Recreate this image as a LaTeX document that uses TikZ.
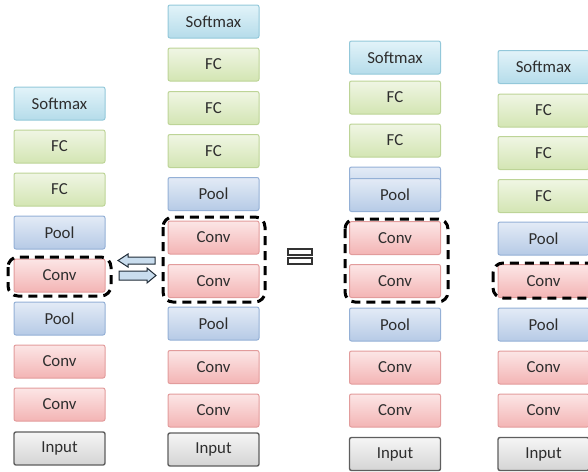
\documentclass[tikz,border=0pt]{standalone}
\usepackage{fontspec}
\setmainfont{Carlito}
\definecolor{smtop}{HTML}{E2F3F9}
\definecolor{smbot}{HTML}{B5DCEA}
\definecolor{smline}{HTML}{93C8DA}
\definecolor{fctop}{HTML}{F0F6E4}
\definecolor{fcbot}{HTML}{D3E5B3}
\definecolor{fcline}{HTML}{BDD497}
\definecolor{pltop}{HTML}{E3EBF6}
\definecolor{plbot}{HTML}{B6CAE6}
\definecolor{plline}{HTML}{94B0D6}
\definecolor{cvtop}{HTML}{FCE6E6}
\definecolor{cvbot}{HTML}{F3B4B4}
\definecolor{cvline}{HTML}{E29C9C}
\definecolor{intop}{HTML}{F5F5F5}
\definecolor{inbot}{HTML}{D4D4D4}
\definecolor{inline}{HTML}{5E5E5E}
\definecolor{arrfill}{HTML}{C9DDEE}
\definecolor{arrline}{HTML}{1E2A36}
\tikzset{
  blk/.style={rounded corners=2pt, minimum width=91pt, minimum height=33pt,
    inner sep=0pt, line width=1pt, font=\fontsize{16.8}{17}\selectfont, text=black!82},
  smb/.style={blk, draw=smline, top color=smtop, bottom color=smbot},
  fcb/.style={blk, draw=fcline, top color=fctop, bottom color=fcbot},
  plb/.style={blk, draw=plline, top color=pltop, bottom color=plbot},
  cvb/.style={blk, draw=cvline, top color=cvtop, bottom color=cvbot},
  inb/.style={blk, draw=inline, line width=1.4pt, top color=intop, bottom color=inbot},
  grp/.style={draw=black, line width=3pt, dash pattern=on 9pt off 6pt, rounded corners=10pt},
  barrow/.style={draw=arrline, fill=arrfill, line width=1pt, line join=miter},
  eqbar/.style={draw=black!80, fill=white, line width=1.6pt}
}
\begin{document}
\begin{tikzpicture}[x=1pt,y=-1pt]
\useasboundingbox (0,0) rectangle (588,471);
% Column 1
\node[smb] (c1a) at (59.5,103.5) {Softmax};
\node[fcb] (c1b) at (59.5,146.5) {FC};
\node[fcb] (c1c) at (59.5,189.5) {FC};
\node[plb] (c1d) at (59.5,232.5) {Pool};
\node[cvb] (c1e) at (59.5,275.5) {Conv};
\node[plb] (c1f) at (59.5,318.5) {Pool};
\node[cvb] (c1g) at (59.5,361.5) {Conv};
\node[cvb] (c1h) at (59.5,404.5) {Conv};
\node[inb] (c1i) at (59.5,448.5) {Input};
% Column 2
\node[smb] (c2a) at (213.5,21.5) {Softmax};
\node[fcb] (c2b) at (213.5,64.5) {FC};
\node[fcb] (c2c) at (213.5,108) {FC};
\node[fcb] (c2d) at (213.5,151) {FC};
\node[plb] (c2e) at (213.5,194) {Pool};
\node[cvb] (c2f) at (213.5,237.5) {Conv};
\node[cvb] (c2g) at (213.5,281) {Conv};
\node[plb] (c2h) at (213.5,323.5) {Pool};
\node[cvb] (c2i) at (213.5,367) {Conv};
\node[cvb] (c2j) at (213.5,410.5) {Conv};
\node[inb] (c2k) at (213.5,449.5) {Input};
% Column 3
\node[smb] (c3a) at (395,57.5) {Softmax};
\node[fcb] (c3b) at (395,97.5) {FC};
\node[fcb] (c3c) at (395,140.5) {FC};
\node[plb] (c3x) at (395,183.5) {};
\node[plb] (c3d) at (395,195) {Pool};
\node[cvb] (c3e) at (395,238) {Conv};
\node[cvb] (c3f) at (395,281) {Conv};
\node[plb] (c3g) at (395,324.5) {Pool};
\node[cvb] (c3h) at (395,367.5) {Conv};
\node[cvb] (c3i) at (395,410.5) {Conv};
\node[inb] (c3j) at (395,454) {Input};
% Column 4
\node[smb] (c4a) at (543.5,67) {Softmax};
\node[fcb] (c4b) at (543.5,110.5) {FC};
\node[fcb] (c4c) at (543.5,153) {FC};
\node[fcb] (c4d) at (543.5,196) {FC};
\node[plb] (c4e) at (543.5,238.5) {Pool};
\node[cvb] (c4f) at (543.5,281) {Conv};
\node[plb] (c4g) at (543.5,324.5) {Pool};
\node[cvb] (c4h) at (543.5,367.5) {Conv};
\node[cvb] (c4i) at (543.5,410.5) {Conv};
\node[inb] (c4j) at (543.5,454) {Input};
% dashed groups
\draw[grp] (8,257) rectangle (111,296);
\draw[grp] (163,217) rectangle (265,302);
\draw[grp] (345,219) rectangle (448,302);
\draw[grp] (493,263) rectangle (610,298);
% double arrows
\draw[barrow] (118,260.5) -- (128,254) -- (128,257) -- (155,257) -- (155,264) -- (128,264) -- (128,267) -- cycle;
\draw[barrow] (156,275.5) -- (147,268) -- (147,271) -- (119,271) -- (119,280) -- (147,280) -- (147,283) -- cycle;
% equivalence sign
\draw[eqbar] (288,249) rectangle (312,255);
\draw[eqbar] (288,258) rectangle (312,264);
\end{tikzpicture}
\end{document}
